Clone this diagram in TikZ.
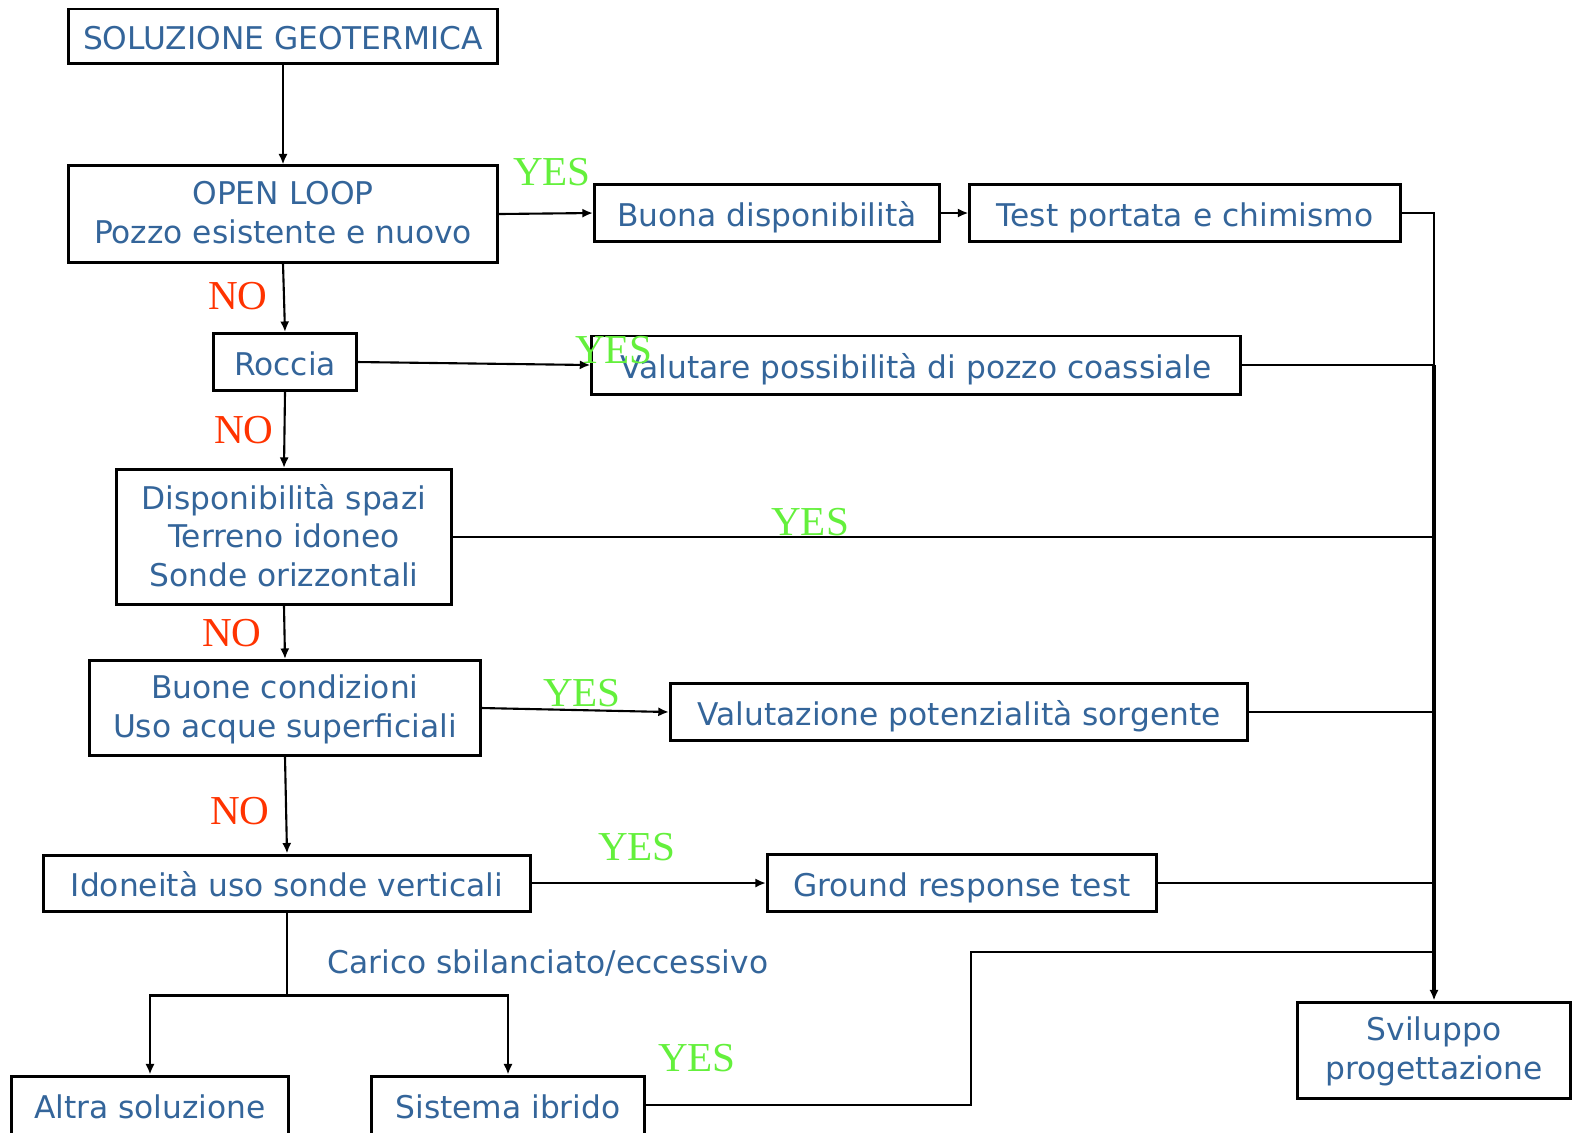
\documentclass[tikz,border=0pt]{standalone}
\usepackage{fontspec}
\setmainfont{DejaVu Sans}
\newfontfamily\yesnofont{Liberation Serif}
\usetikzlibrary{arrows.meta}
\definecolor{boxtext}{RGB}{52,101,154}
\definecolor{yescol}{RGB}{100,240,60}
\definecolor{nocol}{RGB}{255,51,0}

\begin{document}
\begin{tikzpicture}[x=0.01cm,y=-0.01cm,
	box/.style={draw,line width=0.85pt,inner sep=0pt,align=center,text=boxtext,text depth=0.1em,font=\fontsize{8.9}{11}\selectfont},
	oneline/.style={box,text height=0.85em},
	yes/.style={text=yescol,inner sep=0pt,font=\yesnofont\fontsize{11.7}{12}\selectfont},
	no/.style={text=nocol,inner sep=0pt,font=\yesnofont\fontsize{11.7}{12}\selectfont},
	link/.style={line width=0.6pt},
	arrow/.style={line width=0.6pt,-{Latex[length=3pt,width=2.6pt]}}]
	\useasboundingbox (0,0) rectangle (1577,1132);

	\node[oneline,minimum width=4.28cm,minimum height=0.54cm] (sol) at (283,36) {SOLUZIONE GEOTERMICA};
	\node[box,minimum width=4.28cm,minimum height=0.96cm] (open) at (283,214) {OPEN LOOP\\Pozzo esistente e nuovo};
	\node[oneline,minimum width=3.45cm,minimum height=0.57cm] (buona) at (767,213) {Buona disponibilità};
	\node[oneline,minimum width=4.30cm,minimum height=0.57cm] (test) at (1185,213) {Test portata e chimismo};
	\node[oneline,minimum width=1.42cm,minimum height=0.57cm] (roccia) at (285,362) {Roccia};
	\node[oneline,minimum width=6.48cm,minimum height=0.58cm] (valutare) at (916,365) {Valutare possibilità di pozzo coassiale};
	\node[box,minimum width=3.34cm,minimum height=1.35cm] (spazi) at (284,537) {Disponibilità spazi\\Terreno idoneo\\Sonde orizzontali};
	\node[box,minimum width=3.91cm,minimum height=0.95cm] (acque) at (285,708) {Buone condizioni\\Uso acque superficiali};
	\node[oneline,minimum width=5.77cm,minimum height=0.57cm] (sorgente) at (959,712) {Valutazione potenzialità sorgente};
	\node[oneline,minimum width=4.87cm,minimum height=0.56cm] (verticali) at (287,883) {Idoneità uso sonde verticali};
	\node[oneline,minimum width=3.89cm,minimum height=0.57cm] (grt) at (962,883) {Ground response test};
	\node[oneline,minimum width=2.77cm,minimum height=0.58cm] (altra) at (150,1105) {Altra soluzione};
	\node[oneline,minimum width=2.72cm,minimum height=0.58cm] (ibrido) at (508,1105) {Sistema ibrido};
	\node[box,minimum width=2.73cm,minimum height=0.96cm] (sviluppo) at (1434,1050) {Sviluppo\\progettazione};

	\node[yes] (y1) at (552,172) {YES};
	\node[yes] (y2) at (614,350) {YES};
	\node[yes] (y3) at (810,522) {YES};
	\node[yes] (y4) at (582,693) {YES};
	\node[yes] (y5) at (637,847) {YES};
	\node[yes] (y6) at (697,1058) {YES};
	\node[no] (n1) at (238,296) {NO};
	\node[no] (n2) at (244,430) {NO};
	\node[no] (n3) at (232,633) {NO};
	\node[no] (n4) at (240,811) {NO};
	\node[anchor=west,inner sep=0pt,text=boxtext,font=\fontsize{8.9}{11}\selectfont] (carico) at (327,963) {Carico sbilanciato/eccessivo};

	\draw[arrow] (sol) -- (open);
	\draw[arrow] (open.east) -- (buona.west);
	\draw[arrow] (buona) -- (test);
	\draw[link] (test.east) -| (valutare.east -| sviluppo.north);
	\draw[arrow,line width=0.9pt] (valutare.east -| sviluppo.north) -- (sviluppo.north);
	\draw[arrow] (open.south) -- (roccia.north);
	\draw[arrow] (roccia.east) -- (valutare.west);
	\draw[link] (valutare.east) -- (valutare.east -| sviluppo.north);
	\draw[arrow] (roccia.south) -- (spazi.north);
	\draw[link] (spazi.east) -- (spazi.east -| sviluppo.north);
	\draw[arrow] (spazi.south) -- (acque.north);
	\draw[arrow] (acque.east) -- (sorgente.west);
	\draw[link] (sorgente.east) -- (sorgente.east -| sviluppo.north);
	\draw[arrow] (acque.south) -- (verticali.north);
	\draw[arrow] (verticali) -- (grt);
	\draw[link] (grt.east) -- (grt.east -| sviluppo.north);
	\draw[link] (verticali.south) -- ++(0,83) coordinate (split);
	\draw[arrow] (split) -| (altra.north);
	\draw[arrow] (split) -| (ibrido.north);
	\coordinate (bend) at (971,952);
	\draw[link] (ibrido.east) -| (bend) -- (bend -| sviluppo.north);
\end{tikzpicture}
\end{document}
